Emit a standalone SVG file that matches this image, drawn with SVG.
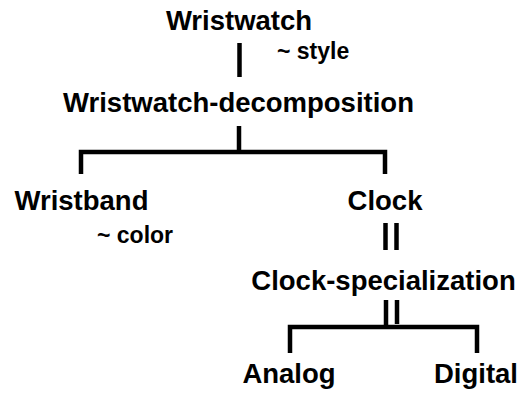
<svg xmlns="http://www.w3.org/2000/svg" width="524" height="396" viewBox="0 0 524 396">
<style>
.n{font-family:"Liberation Sans",Arial,sans-serif;font-weight:bold;font-size:27.5px;fill:#000;text-anchor:middle}
.a{font-family:"Liberation Sans",Arial,sans-serif;font-weight:bold;font-size:23px;fill:#000}
.c line,.c path{stroke:#000;stroke-width:4.5;fill:none}
</style>
<rect width="524" height="396" fill="#fff"/>
<g class="c" id="connectors">
<line x1="239.5" y1="43" x2="239.5" y2="77"/>
<line x1="239" y1="126" x2="239" y2="154"/>
<path d="M81,174 V152 H385 V174"/>
<line x1="385.5" y1="223" x2="385.5" y2="250"/>
<line x1="396.5" y1="223" x2="396.5" y2="250"/>
<line x1="386" y1="300" x2="386" y2="329"/>
<line x1="397" y1="300" x2="397" y2="324"/>
<path d="M290,353 V327 H477 V353"/>
</g>
<g id="wristwatch"><text class="n" x="239" y="30">Wristwatch</text><text class="a" x="277" y="59">~ style</text></g>
<g id="wristwatch-decomposition"><text class="n" x="238.5" y="112">Wristwatch-decomposition</text></g>
<g id="wristband"><text class="n" x="81.5" y="210">Wristband</text><text class="a" x="97" y="243">~ color</text></g>
<g id="clock"><text class="n" x="385" y="210">Clock</text></g>
<g id="clock-specialization"><text class="n" x="383.5" y="290">Clock-specialization</text></g>
<g id="analog"><text class="n" x="289" y="383">Analog</text></g>
<g id="digital"><text class="n" x="476" y="383">Digital</text></g>
</svg>
